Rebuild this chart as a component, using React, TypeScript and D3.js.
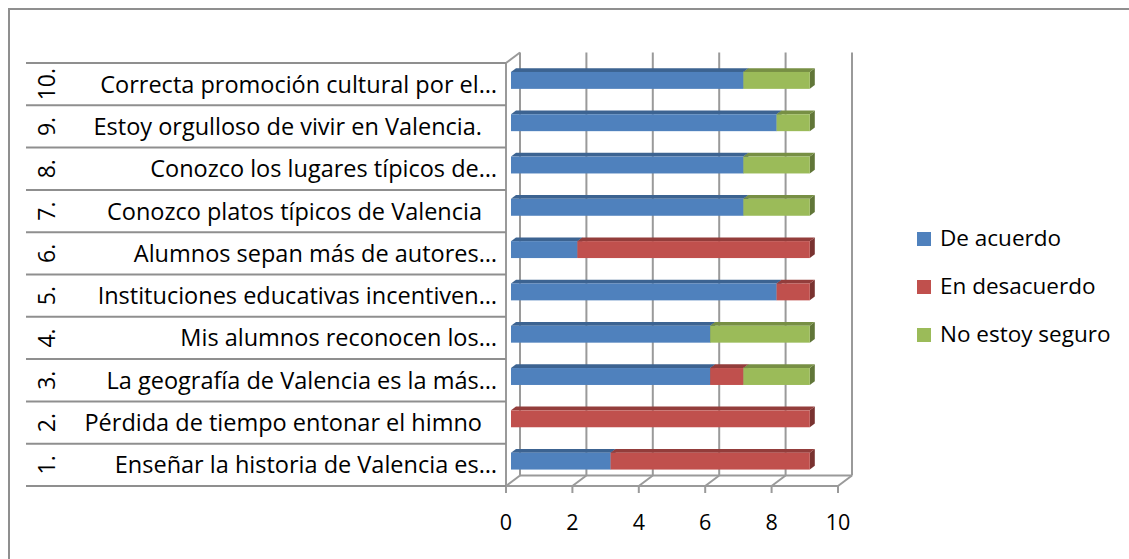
import React from 'react';
import { scaleLinear, scaleBand, stack, color } from 'd3';

// categories from bottom (1.) to top (10.)
const categories = ['1.', '2.', '3.', '4.', '5.', '6.', '7.', '8.', '9.', '10.'];
const labels = [
  'Enseñar la historia de Valencia es…',
  'Pérdida de tiempo entonar el himno',
  'La geografía de Valencia es la más…',
  'Mis alumnos reconocen los…',
  'Instituciones educativas incentiven…',
  'Alumnos sepan más de autores…',
  'Conozco platos típicos de Valencia',
  'Conozco los lugares típicos de…',
  'Estoy orgulloso de vivir en Valencia.',
  'Correcta promoción cultural por el…',
];
const deAcuerdo = [3, 0, 6, 6, 8, 2, 7, 7, 8, 7];
const enDesacuerdo = [6, 9, 1, 0, 1, 7, 0, 0, 0, 0];
const noSeguro = [0, 0, 2, 3, 0, 0, 2, 2, 1, 2];
const seriesNames = ['De acuerdo', 'En desacuerdo', 'No estoy seguro'];
const seriesColors = ['#4F81BD', '#C0504D', '#9BBB59'];
const ticks = [0, 2, 4, 6, 8, 10];

const W = 1129, H = 559;
const DX = 14, DY = -10.5;        // depth of the 3d box
const F0 = 0.357, F1 = 0.714;     // bar front / back plane as fraction of depth
const FONT = '"Open Sans", Lato, sans-serif';
const GRID = '#9a9a9a';

export default function App() {
  const x = scaleLinear().domain([0, 10]).range([506, 838]);
  const y = scaleBand().domain(categories).range([486, 63]);
  const bw = y.bandwidth();
  const barH = bw * 0.4;

  const rows = categories.map((c, i) => ({
    cat: c,
    s0: deAcuerdo[i],
    s1: enDesacuerdo[i],
    s2: noSeguro[i],
  }));
  const series = stack<any>().keys(['s0', 's1', 's2'])(rows);

  const top = y.range()[1], bottom = y.range()[0];
  const backTop = top + DY, backBottom = bottom + DY;

  const bars: JSX.Element[] = [];
  series.forEach((s, si) => {
    const base = seriesColors[si];
    const topC = color(base)!.darker(0.75).toString();
    const sideC = color(base)!.darker(1.3).toString();
    s.forEach((d: any, i: number) => {
      if (d[1] - d[0] <= 0) return;
      const cy = (y(categories[i]) as number) + bw / 2 + F0 * DY;
      const x0 = x(d[0]) + F0 * DX, x1 = x(d[1]) + F0 * DX;
      const y0 = cy - barH / 2, y1 = cy + barH / 2;
      const ddx = (F1 - F0) * DX, ddy = (F1 - F0) * DY;
      bars.push(
        <g key={`${si}-${i}`}>
          <polygon points={`${x1},${y0} ${x1 + ddx},${y0 + ddy} ${x1 + ddx},${y1 + ddy} ${x1},${y1}`} fill={sideC} />
          <polygon points={`${x0},${y0} ${x0 + ddx},${y0 + ddy} ${x1 + ddx},${y0 + ddy} ${x1},${y0}`} fill={topC} />
          <rect x={x0} y={y0} width={x1 - x0} height={barH} fill={base} />
        </g>
      );
    });
  });

  return (
    <svg width={W} height={H} style={{ position: 'absolute', left: 0, top: 0, background: '#fff' }}>
      <rect x={9} y={9} width={W + 10} height={H + 10} fill="none" stroke="#8f8f8f" strokeWidth={2} />

      {/* walls and grid */}
      <g stroke={GRID} strokeWidth={2} fill="none">
        {ticks.map(t => (
          <line key={'g' + t} x1={x(t) + DX} x2={x(t) + DX} y1={backTop} y2={backBottom} />
        ))}
        <line x1={x(0) + DX} x2={x(10) + DX} y1={backBottom} y2={backBottom} />
        {ticks.map(t => (
          <line key={'f' + t} x1={x(t)} x2={x(t) + DX} y1={bottom} y2={backBottom} />
        ))}
        <line x1={x(0)} x2={x(10)} y1={bottom} y2={bottom} />
        {ticks.map(t => (
          <line key={'t' + t} x1={x(t)} x2={x(t)} y1={bottom} y2={bottom + 7} />
        ))}
        <line x1={x(0)} x2={x(0)} y1={top} y2={bottom} />
        <line x1={x(0)} x2={x(0) + DX} y1={top} y2={backTop} />
      </g>

      {/* label table */}
      <g stroke="#8f8f8f" strokeWidth={2}>
        {categories.map(c => (
          <line key={c} x1={26} x2={x(0)} y1={y(c) as number} y2={y(c) as number} />
        ))}
        <line x1={26} x2={x(0)} y1={bottom} y2={bottom} />
      </g>

      {bars}

      <g fontFamily={FONT} fontSize={23.5} fill="#000">
        {categories.map((c, i) => {
          const cy = (y(c) as number) + bw / 2;
          const cut = labels[i].endsWith('…');
          return (
            <g key={c}>
              <text x={cut ? 497 : 482} y={cy + 8.5} textAnchor="end">{labels[i]}</text>
              <text transform={`translate(55,${cy}) rotate(-90)`} textAnchor="middle" fontSize={23}>{c}</text>
            </g>
          );
        })}
        {ticks.map(t => (
          <text key={t} x={x(t)} y={530} textAnchor="middle" fontSize={21.5}>{t}</text>
        ))}
        {seriesNames.map((n, i) => (
          <g key={n} transform={`translate(917,${232 + i * 48})`}>
            <rect width={14} height={14} fill={seriesColors[i]} />
            <text x={23} y={14} fontSize={22.5}>{n}</text>
          </g>
        ))}
      </g>
    </svg>
  );
}
